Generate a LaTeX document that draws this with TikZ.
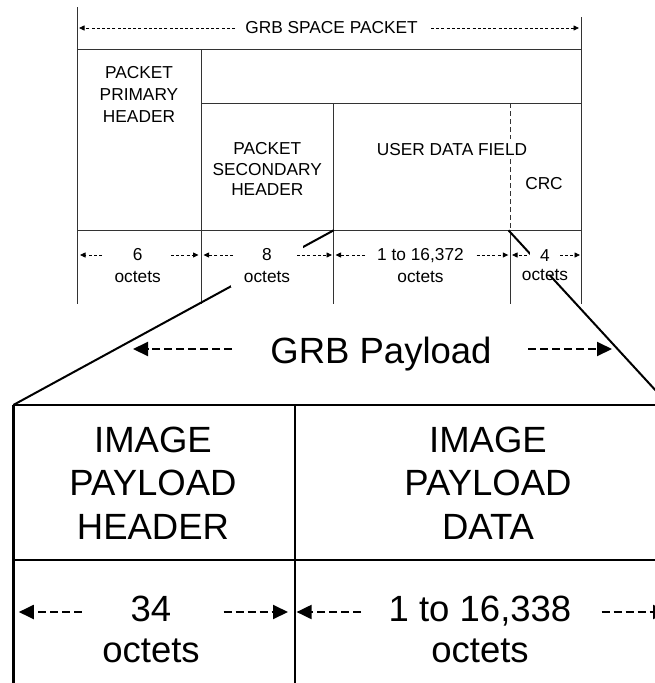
\documentclass[tikz,border=0pt]{standalone}
\usepackage{fontspec}
\setmainfont{Liberation Sans}
\usetikzlibrary{arrows.meta}
\begin{document}
\begin{tikzpicture}[x=1pt,y=-1pt,
  gridline/.style={line width=0.9pt, draw=black!80},
  heavy/.style={line width=2.6pt, draw=black},
  slant/.style={line width=2pt, draw=black},
  sm/.style={font=\fontsize{17.3}{21.3}\selectfont, align=center, inner sep=0pt},
  lg/.style={font=\fontsize{36.5}{43.7}\selectfont, align=center, inner sep=0pt},
  darr/.style={line width=0.8pt, dash pattern=on 3pt off 2.2pt, -{Triangle[length=5.5pt,width=5pt]}},
  Darr/.style={line width=2pt, dash pattern=on 8pt off 4pt, -{Triangle[length=15pt,width=14pt]}}]
\useasboundingbox (0,0) rectangle (655,683);
\clip (0,0) rectangle (655,683);

% ---------- GRB space packet grid ----------
\coordinate (TL) at (77.3,7);
\coordinate (TR) at (581.3,17);
\draw[gridline] (TL) -- (77.3,304);
\draw[gridline] (TR) -- (581.3,304);
\draw[gridline] (77.3,49.3) -- (581.3,49.3);
\draw[gridline] (201.7,103.3) -- (581.3,103.3);
\draw[gridline] (77.3,230.3) -- (581.3,230.3);
\draw[gridline] (201.7,49.3) -- (201.7,304);
\draw[gridline] (333.7,103.3) -- (333.7,304);
\draw[gridline, dash pattern=on 5pt off 3pt] (510,103.3) -- (510,230.3);
\draw[gridline] (510,230.3) -- (510,304);

% ---------- lower (payload) grid ----------
\draw[heavy] (13.3,405) -- (700,405);
\draw[heavy] (13.3,560) -- (700,560);
\draw[heavy] (13.3,405) -- (13.3,700);
\draw[heavy] (295,405) -- (295,700);

% ---------- expansion lines ----------
\coordinate (sdhBR) at (333.7,230.3);
\coordinate (crcBL) at (508.5,230.3);
\coordinate (payTL) at (13.3,405);
\coordinate (payTR) at (669,405);
\draw[slant] (sdhBR) -- (payTL);
\draw[slant] (crcBL) -- (payTR);

% ---------- top title ----------
\node[sm] (title) at (331.5,28) {GRB SPACE PACKET};
\draw[darr] (235,28) coordinate (tA) -- (79,28) coordinate (tB);
\draw[darr] (431,28) coordinate (tC) -- (579,28) coordinate (tD);

% ---------- field labels ----------
\node[sm, font=\fontsize{17.3}{21.7}\selectfont] (pph) at (139,94.3) {PACKET\\PRIMARY\\HEADER};
\node[sm, font=\fontsize{17.3}{20.8}\selectfont] (psh) at (267.3,169) {PACKET\\SECONDARY\\HEADER};
\node[sm, fill=white, inner xsep=2pt, inner ysep=4pt] (udf) at (452,149.3) {USER DATA FIELD};
\node[sm] (crc) at (544,183.3) {CRC};

% ---------- length labels ----------
\node[sm] (o6) at (137.7,265.6) {6\\octets};
\node[sm, fill=white, minimum width=72pt, minimum height=42pt] (o8) at (267,265.6) {8\\octets};
\node[sm] (o3) at (420.5,265.6) {1 to 16,372\\octets};
\node[sm, fill=white, anchor=base, text height=13pt, text depth=14pt, minimum width=30pt] (o4) at (545,261.2) {4};
\node[sm, anchor=base] (o4b) at (545,280) {octets};

\draw[darr] (102,255) -- (80,255);
\draw[darr] (171,255) -- (198.5,255);
\draw[darr] (233,255) -- (203.5,255);
\draw[darr] (297,255) -- (332,255);
\draw[darr] (365,255) -- (335.5,255);
\draw[darr] (476.7,255) -- (508.3,255);
\draw[darr] (526.7,255) -- (512,255);
\draw[darr] (560,255) -- (580,255);

% ---------- GRB payload ----------
\node[lg, anchor=base] (grb) at (381,363.2) {GRB Payload};
\draw[Darr] (232,349) -- (133,349);
\draw[Darr] (528,349) -- (612,349);

\node[lg] (iph) at (153,483) {IMAGE\\PAYLOAD\\HEADER};
\node[lg] (ipd) at (488,483) {IMAGE\\PAYLOAD\\DATA};

\node[lg, anchor=base] (n34) at (151,621) {34};
\node[lg, anchor=base] (oc34) at (151,662.5) {octets};
\node[lg, anchor=base] (n16) at (480,621) {1 to 16,338};
\node[lg, anchor=base] (oc16) at (480,662.5) {octets};

\draw[Darr] (81.5,612) -- (18.8,612);
\draw[Darr] (223.5,612) -- (288,612);
\draw[Darr] (361,612) -- (296.6,612);
\draw[Darr] (601.5,612) -- (668,612);
\end{tikzpicture}
\end{document}
